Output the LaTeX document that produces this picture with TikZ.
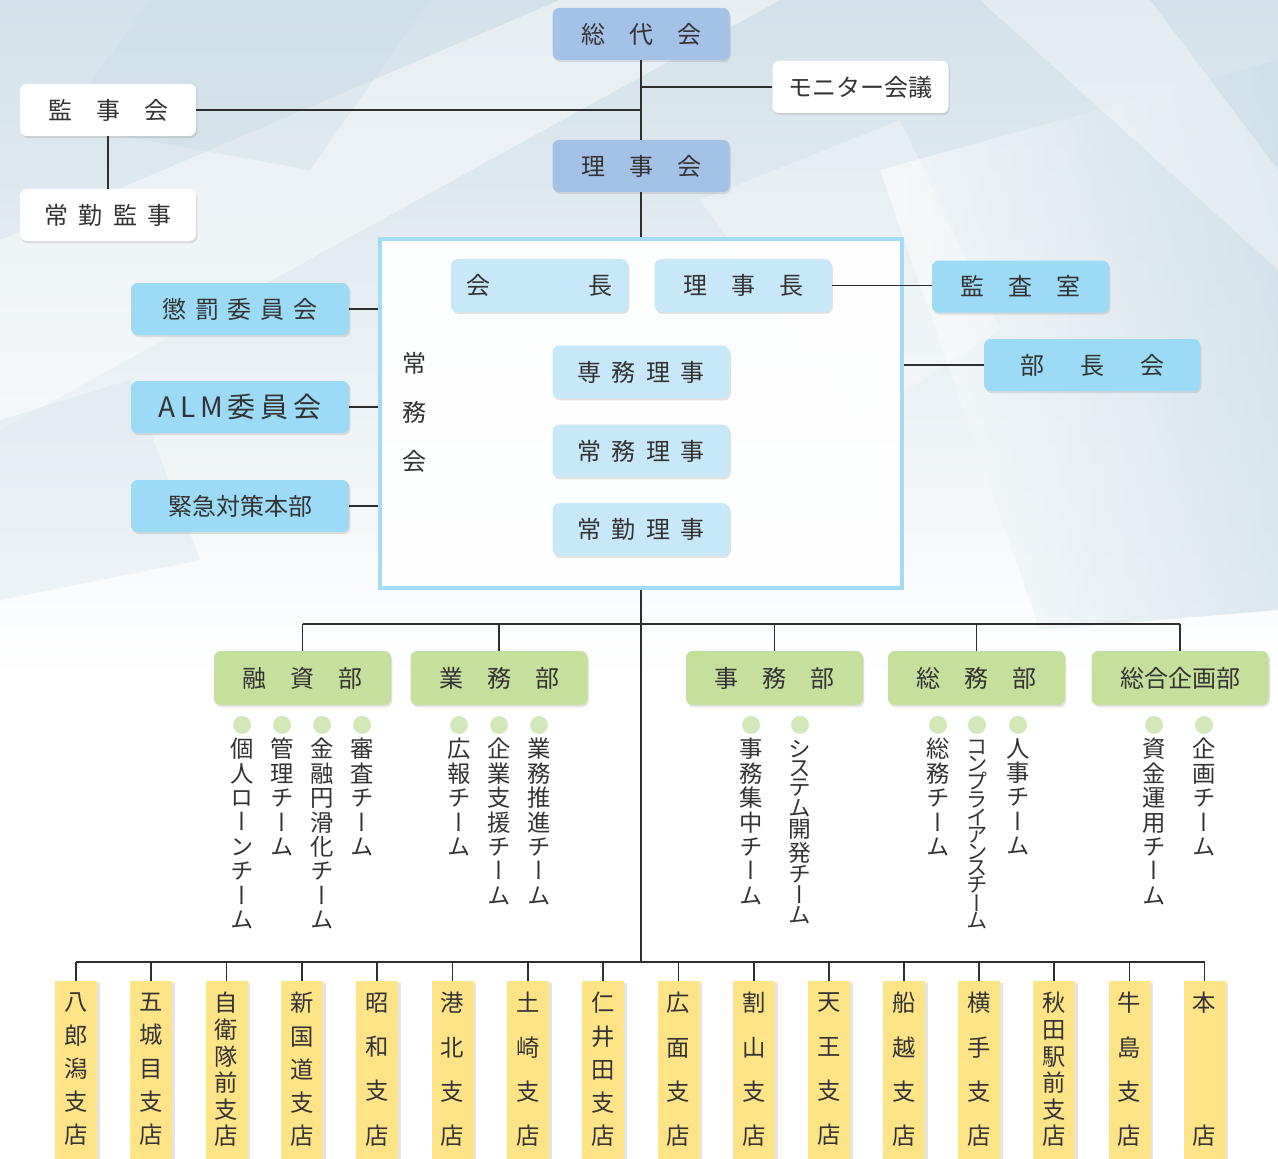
\documentclass[tikz,border=0pt]{standalone}
\usepackage{fontspec}
\setmainfont{Noto Sans CJK JP}
\newfontfamily\jp{Noto Sans CJK JP}
\newfontfamily\jpv[RawFeature=+vert]{Noto Sans CJK JP}
\usetikzlibrary{shadows}
\definecolor{txt}{HTML}{333333}
\definecolor{topblue}{HTML}{A4C2E6}
\definecolor{skyblue}{HTML}{9DDAF6}
\definecolor{paleblue}{HTML}{C7E8F8}
\definecolor{frameblue}{HTML}{A3DCF5}
\definecolor{deptgreen}{HTML}{C5DF9D}
\definecolor{dotgreen}{HTML}{D3E7B9}
\definecolor{branchy}{HTML}{FEE486}
\definecolor{lineclr}{HTML}{2E2E2E}
\definecolor{bgblue}{HTML}{D2E1E9}
\definecolor{bgblue2}{HTML}{C9DCE6}
\makeatletter
\newcommand\vtxt[2]{\vbox{\baselineskip=#1\lineskiplimit=-\maxdimen\lineskip=0pt
  \@tfor\vt@c:=#2\do{\hbox to 1.1em{\hss\vt@c\hss}}}}
% proportional stacking: glyph ink boxes separated by a fixed gap
\newcommand\vtxtp[2]{\vbox{\baselineskip=0pt\lineskiplimit=0pt\lineskip=#1
  \@tfor\vt@c:=#2\do{\hbox to 1.1em{\hss\vt@c\hss}}}}
\makeatother
\tikzset{
  box/.style={rectangle, rounded corners=5pt, inner sep=0pt, text=txt,
    font=\jp\fontsize{18}{20}\selectfont,
    drop shadow={shadow xshift=1pt, shadow yshift=-1.6pt, opacity=0.22}},
  topbox/.style={box, fill=topblue, minimum width=132.75pt, minimum height=39pt},
  whitebox/.style={box, fill=white, minimum width=132pt, minimum height=39pt},
  skybox/.style={box, fill=skyblue, minimum height=39pt},
  palebox/.style={box, fill=paleblue, minimum width=132.75pt, minimum height=39.5pt},
  dept/.style={box, fill=deptgreen, minimum width=132.75pt, minimum height=40.5pt},
  conn/.style={draw=lineclr, line width=1.1pt},
  dot/.style={circle, fill=dotgreen, minimum size=13.5pt, inner sep=0pt},
  teamtxt/.style={anchor=north, inner sep=0pt, text=txt, font=\jpv\fontsize{17.5}{18}\selectfont},
  branchbox/.style={rectangle, fill=branchy, minimum width=31.5pt, minimum height=138pt, inner sep=0pt,
    drop shadow={shadow xshift=2.2pt, shadow yshift=-1.2pt, opacity=0.22}},
  btxt/.style={inner sep=0pt, text=txt, font=\jp\fontsize{17.5}{18}\selectfont},
}
\newcommand\branch[4]{%
  \node[branchbox] (#1) at (#2,1073) {};
  \node[btxt] (#1t) at (#2,1069.5) {\vtxt{#3}{#4}};
  \draw[conn] (#1.north) -- (#1.north |- brline);}
\newcommand\team[3]{%
  \node[dot] (#1d) at (#2,725) {};
  \node[teamtxt] (#1) at (#2,738) {\vtxt{18.3pt}{#3}};}
\newcommand\teamp[5]{% name, x, fontsize, gap, text
  \node[dot] (#1d) at (#2,725) {};
  \node[teamtxt, font=\jpv\fontsize{#3}{18}\selectfont] (#1) at (#2,740) {\vtxtp{#4}{#5}};}
\begin{document}
\begin{tikzpicture}[x=0.75pt,y=-0.75pt]
\useasboundingbox (0,0) rectangle (1278,1159);
% background
\fill[white] (0,0) rectangle (1278,1159);
\shade[top color=bgblue, bottom color=white] (0,0) rectangle (1278,680);
\fill[white, opacity=0.45] (0,240) -- (560,0) -- (780,0) -- (0,430) -- cycle;
\shade[left color=white, right color=bgblue2, opacity=0.6] (880,170) -- (1278,60) -- (1278,610) -- (1040,630) -- cycle;
\fill[white, opacity=0.35] (980,0) -- (1150,0) -- (1278,170) -- (1278,270) -- cycle;
\fill[bgblue2, opacity=0.35] (150,0) -- (430,0) -- (310,170) -- (60,125) -- cycle;
\fill[white, opacity=0.3] (700,200) -- (900,120) -- (1000,330) -- (860,420) -- cycle;
\fill[bgblue2, opacity=0.25] (0,420) -- (130,380) -- (200,560) -- (0,600) -- cycle;

\coordinate (brline) at (641,962);
\coordinate (deptline) at (641,624);

% top level
\node[topbox] (sodai) at (641,34) {総　代　会};
\node[topbox] (rijikai) at (641,166) {理　事　会};
\node[whitebox] (monitor) at (860.5,87) {モニター会議};
\node[whitebox] (kanjikai) at (108,110) {監　事　会};
\node[whitebox] (jokin) at (108,215) {常\hspace{8pt}勤\hspace{8pt}監\hspace{8pt}事};

% frame
\node[draw=frameblue, line width=2.3pt, fill=white, fill opacity=0.9, minimum width=391.5pt,
  minimum height=261.75pt, inner sep=0pt] (jomukai) at (641,413.5) {};
\node[inner sep=0pt, text=txt, font=\jp\fontsize{18}{20}\selectfont] (jomukaiLabel) at (414,412)
  {\vtxt{36.75pt}{常務会}};
\node[palebox] (kaicho) at (539.5,285.5) {会\hspace{74pt}長};
\node[palebox] (rijicho) at (743,285.5) {理　事　長};
\node[palebox] (senmu) at (641,372) {専\hspace{8pt}務\hspace{8pt}理\hspace{8pt}事};
\node[palebox] (jomu) at (641,451) {常\hspace{8pt}務\hspace{8pt}理\hspace{8pt}事};
\node[palebox] (jokinriji) at (641,529.5) {常\hspace{8pt}勤\hspace{8pt}理\hspace{8pt}事};

\node[skybox, minimum width=132.75pt] (kansa) at (1020.5,286.5) {監　査　室};
\node[skybox, minimum width=162pt] (bucho) at (1092,365) {部\hspace{27pt}長\hspace{27pt}会};
\node[skybox, minimum width=163.5pt] (chobatsu) at (240,309) {懲\hspace{6.5pt}罰\hspace{6.5pt}委\hspace{6.5pt}員\hspace{6.5pt}会};
\node[skybox, minimum width=163.5pt, font=\jp\fontsize{21}{23}\selectfont] (alm) at (240,407)
  {A\hspace{3.5pt}L\hspace{3.5pt}M\hspace{3.5pt}委\hspace{3.5pt}員\hspace{3.5pt}会};
\node[skybox, minimum width=163.5pt] (kinkyu) at (240,506) {緊急対策本部};

% connectors top
\draw[conn] (sodai.south) -- (rijikai.north);
\draw[conn] (rijikai.south) -- (jomukai.north);
\draw[conn] (kanjikai.east) -- (kanjikai.east -| sodai.south);
\draw[conn] (kanjikai.south) -- (jokin.north);
\draw[conn] (monitor.west) -- (monitor.west -| sodai.south);
\draw[conn] (rijicho.east) -- (rijicho.east -| kansa.west);
\draw[conn] (bucho.west) -- (bucho.west -| jomukai.east);
\draw[conn] (chobatsu.east) -- (chobatsu.east -| jomukai.west);
\draw[conn] (alm.east) -- (alm.east -| jomukai.west);
\draw[conn] (kinkyu.east) -- (kinkyu.east -| jomukai.west);
\draw[conn] (jomukai.south) -- (jomukai.south |- brline);

% departments
\node[dept] (yushi) at (302.5,678) {融　資　部};
\node[dept] (gyomu) at (499,678) {業　務　部};
\node[dept] (jimu) at (774.5,678) {事　務　部};
\node[dept] (somu) at (976.5,678) {総　務　部};
\node[dept] (sogo) at (1180,678) {総合企画部};
\draw[conn] (yushi.north |- deptline) -- (sogo.north |- deptline);
\foreach \d in {yushi,gyomu,jimu,somu,sogo}
  \draw[conn] (\d.north) -- (\d.north |- deptline);

% teams
\team{t1}{242}{個人ローンチーム}
\team{t2}{282}{管理チーム}
\team{t3}{322}{金融円滑化チーム}
\team{t4}{362}{審査チーム}
\team{t5}{459}{広報チーム}
\team{t6}{499}{企業支援チーム}
\team{t7}{539}{業務推進チーム}
\team{t8}{751}{事務集中チーム}
\teamp{t9}{800}{17}{2pt}{システム開発チーム}
\team{t10}{938}{総務チーム}
\teamp{t11}{977}{16}{0.8pt}{コンプライアンスチーム}
\team{t12}{1018}{人事チーム}
\team{t13}{1154}{資金運用チーム}
\team{t14}{1204}{企画チーム}

% branches
\branch{b1}{76}{24.94pt}{八郎潟支店}
\branch{b2}{151}{24.94pt}{五城目支店}
\branch{b3}{226.5}{19.95pt}{自衛隊前支店}
\branch{b4}{302}{24.94pt}{新国道支店}
\branch{b5}{377}{33.25pt}{昭和支店}
\branch{b6}{452.5}{33.25pt}{港北支店}
\branch{b7}{528}{33.25pt}{土崎支店}
\branch{b8}{603}{24.94pt}{仁井田支店}
\branch{b9}{678.5}{33.25pt}{広面支店}
\branch{b10}{754}{33.25pt}{割山支店}
\branch{b11}{829}{33.25pt}{天王支店}
\branch{b12}{904}{33.25pt}{船越支店}
\branch{b13}{979}{33.25pt}{横手支店}
\branch{b14}{1054}{19.95pt}{秋田駅前支店}
\branch{b15}{1129.5}{33.25pt}{牛島支店}
\branch{b16}{1204.5}{99.75pt}{本店}
\draw[conn] (b1.north |- brline) -- (b16.north |- brline);
\end{tikzpicture}
\end{document}
